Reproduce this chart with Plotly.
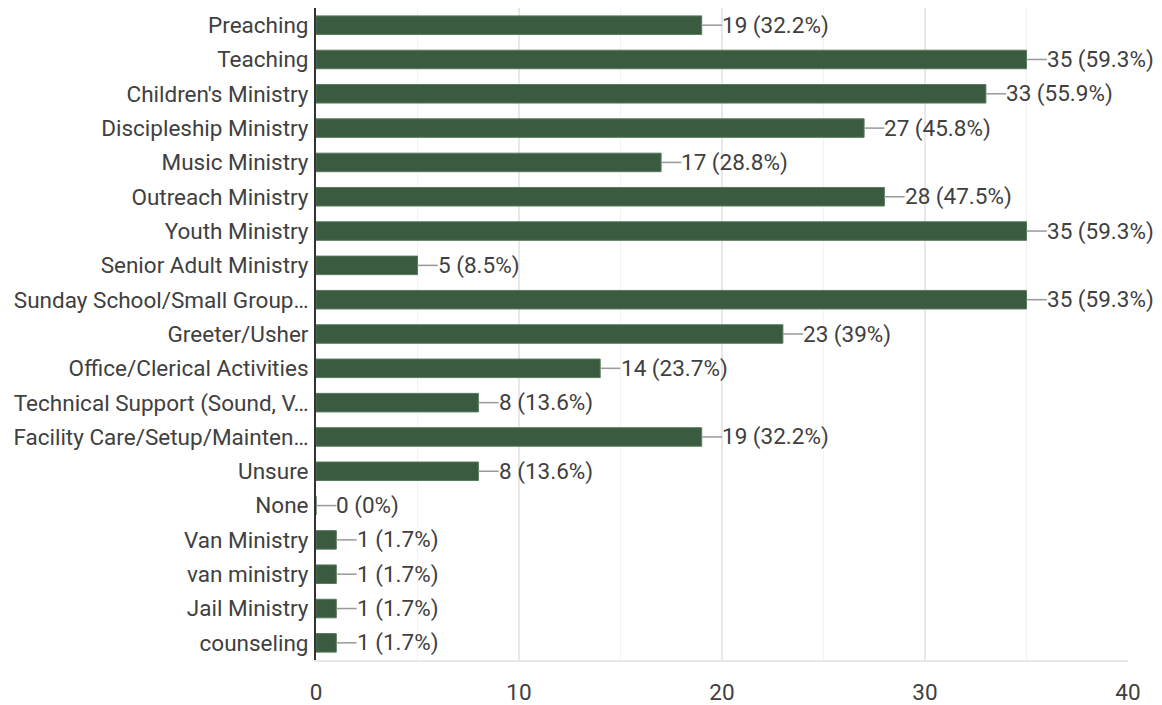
import plotly.graph_objects as go

categories = ["Preaching", "Teaching", "Children's Ministry", "Discipleship Ministry",
              "Music Ministry", "Outreach Ministry", "Youth Ministry", "Senior Adult Ministry",
              "Sunday School/Small Group…", "Greeter/Usher", "Office/Clerical Activities",
              "Technical Support (Sound, V…", "Facility Care/Setup/Mainten…", "Unsure", "None",
              "Van Ministry", "van ministry", "Jail Ministry", "counseling"]
counts = [19, 35, 33, 27, 17, 28, 35, 5, 35, 23, 14, 8, 19, 8, 0, 1, 1, 1, 1]
percents = ["32.2%", "59.3%", "55.9%", "45.8%", "28.8%", "47.5%", "59.3%", "8.5%", "59.3%",
            "39%", "23.7%", "13.6%", "32.2%", "13.6%", "0%", "1.7%", "1.7%", "1.7%", "1.7%"]
x_ticks = [0, 10, 20, 30, 40]

BAR = "#3a5b3f"
TXT = "#404040"
FONT = "Roboto"
FS = 22.5

fig = go.Figure(go.Bar(
    x=counts, y=categories, orientation="h",
    marker=dict(color=BAR, line=dict(color="#577a5c", width=1)),
    width=0.54, hoverinfo="skip",
))

for c, v, p in zip(categories, counts, percents):
    fig.add_shape(type="line", xref="x", yref="y", x0=v, x1=v + 1, y0=c, y1=c,
                  line=dict(color="#999999", width=1.5))
    fig.add_annotation(x=v + 1, y=c, xref="x", yref="y", text=f"{v} ({p})",
                       showarrow=False, xanchor="left", xshift=-2,
                       font=dict(family=FONT, size=FS, color=TXT))

# page body has an 8px margin; compensate so the plot lands where the reference has it
fig.update_layout(
    width=1154, height=697,
    margin=dict(l=308, r=34, t=0, b=45, autoexpand=False),
    paper_bgcolor="white", plot_bgcolor="white",
    showlegend=False,
    font=dict(family=FONT, size=FS, color=TXT),
    xaxis=dict(range=[0, 40], tickvals=x_ticks, showgrid=True, gridcolor="#e8e8e8",
               gridwidth=1.5, zeroline=False, showline=True, mirror=True,
               linecolor="#e8e8e8", linewidth=1.5, ticks="", ticklen=0,
               ticklabelstandoff=11, automargin=False,
               tickfont=dict(family=FONT, size=FS, color=TXT),
               minor=dict(tickvals=[5, 15, 25, 35], showgrid=True, gridcolor="#f2f2f2", gridwidth=1)),
    yaxis=dict(autorange="reversed", showline=True, linecolor="#333333", linewidth=2,
               showgrid=False, ticks="", ticklabelstandoff=1, automargin=False,
               tickfont=dict(family=FONT, size=FS, color=TXT)),
)

fig.write_html("out.html")
